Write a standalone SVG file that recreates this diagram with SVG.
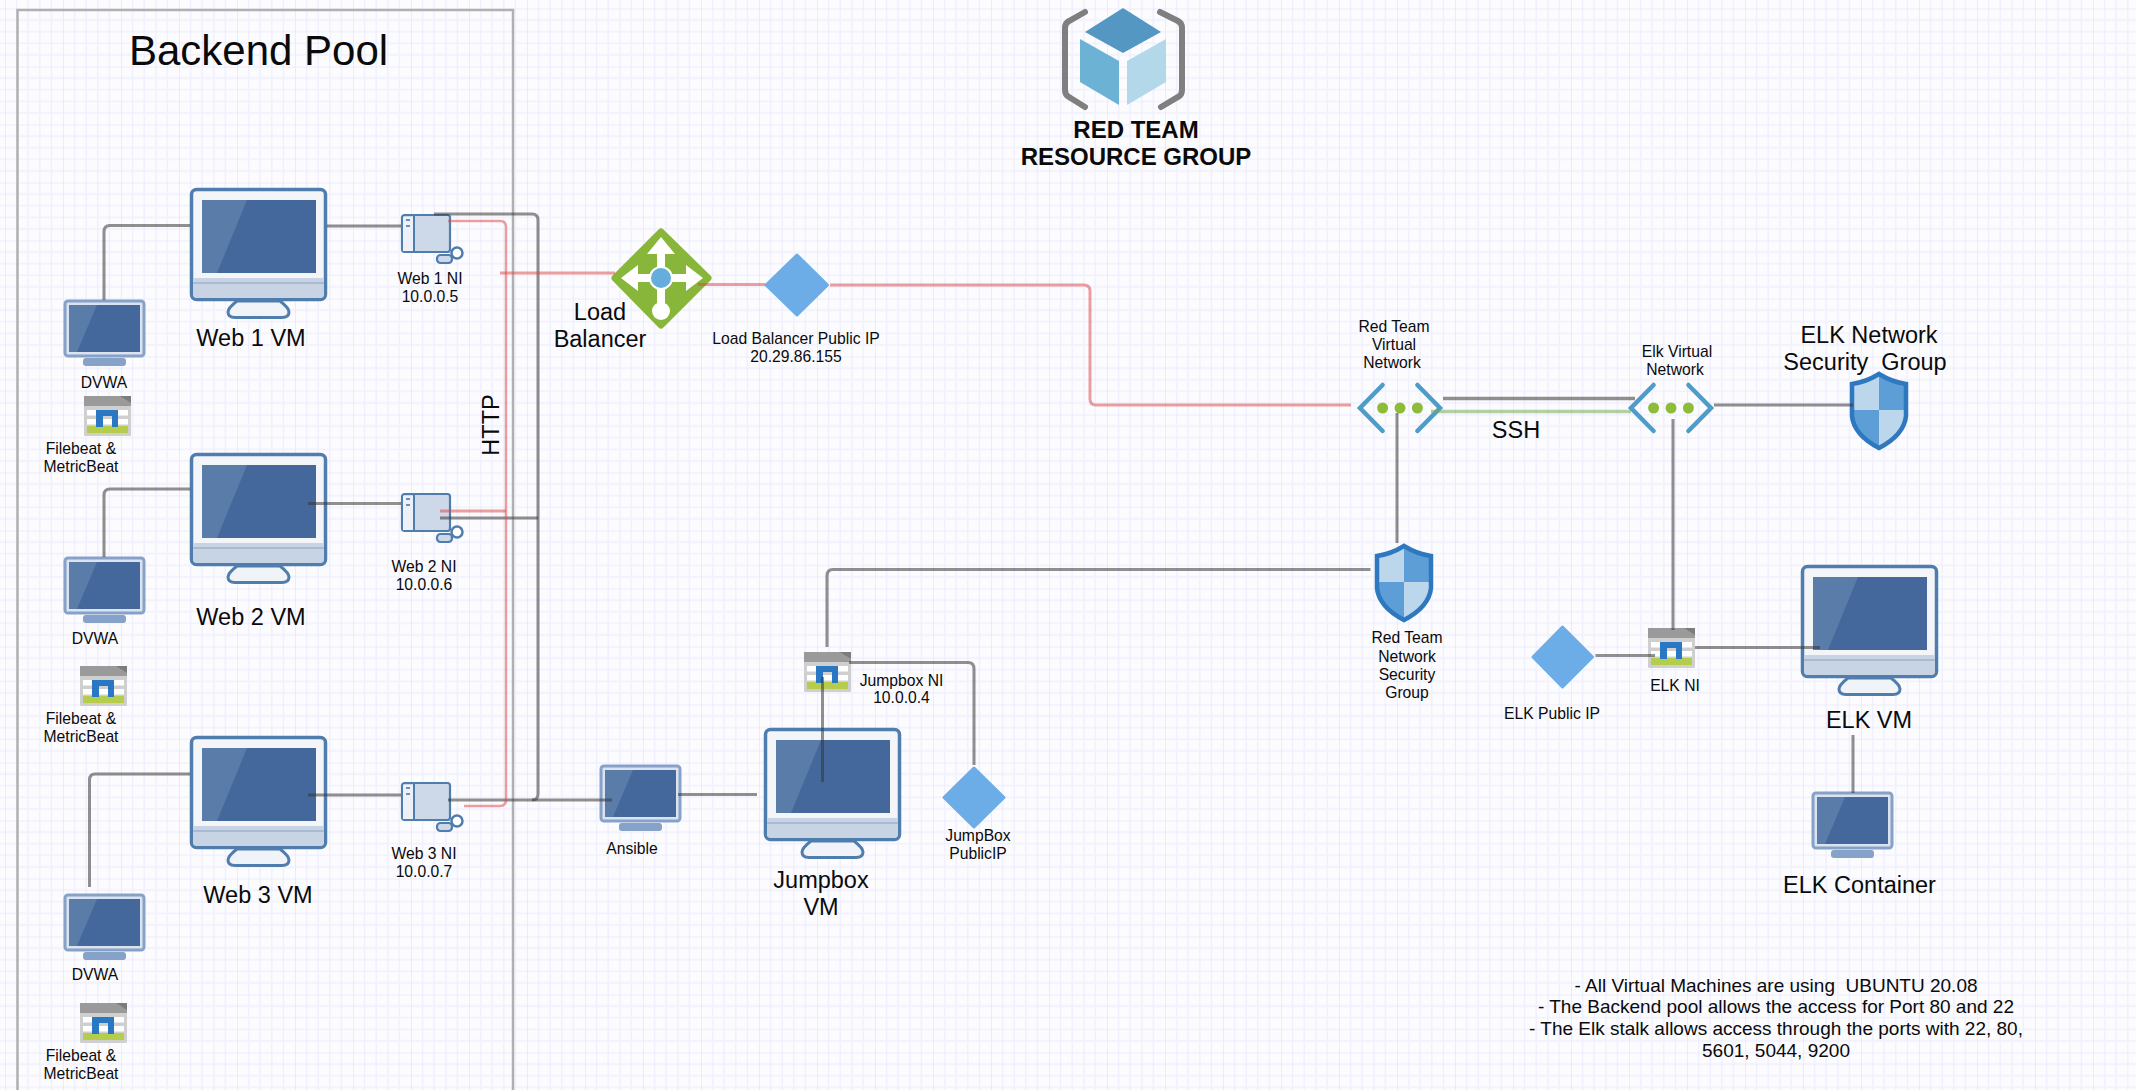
<svg xmlns="http://www.w3.org/2000/svg" width="2136" height="1090" viewBox="0 0 2136 1090">
<style>
text{font-family:"Liberation Sans",Arial,sans-serif;fill:#0a0a0a;text-anchor:middle;white-space:pre}
.s{font-size:15.7px}.m{font-size:23.5px}.b{font-size:24px;font-weight:bold}.n{font-size:19px}
.c{fill:none;stroke:#333;stroke-opacity:.55;stroke-width:3}
.r{fill:none;stroke:#dc4646;stroke-opacity:.52;stroke-width:3}
.g{fill:none;stroke:#76ab5a;stroke-opacity:.55;stroke-width:3.5}
.ip{fill:#6cade8;stroke:#6cade8;stroke-width:3;stroke-linejoin:round}
.ch{fill:none;stroke:#4f9cc8;stroke-width:4.5;stroke-linecap:round;stroke-linejoin:miter}
.dot{fill:#8dbd37}
use,.soft{filter:url(#soft)}
</style>
<defs>
<filter id="soft" x="-5%" y="-5%" width="110%" height="110%"><feGaussianBlur stdDeviation="0.5"/></filter>
<filter id="softl" filterUnits="userSpaceOnUse" x="0" y="0" width="2136" height="1090"><feGaussianBlur stdDeviation="0.6"/></filter>
<pattern id="grid" width="58" height="58" patternUnits="userSpaceOnUse" patternTransform="translate(5 8.5)">
<path d="M0 0V58M11.6 0V58M23.2 0V58M34.8 0V58M46.4 0V58M0 0H58M0 11.6H58M0 23.2H58M0 34.8H58M0 46.4H58" fill="none" stroke="#f0f0fe" stroke-width="1.6"/>
<path d="M0 0V58M0 0H58" fill="none" stroke="#e9e9fc" stroke-width="1.6"/>
</pattern>
<clipPath id="sc"><path d="M29 0Q42 9 58 11V44Q56 64 29 78Q2 64 0 44V11Q16 9 29 0Z"/></clipPath>
<symbol id="bigmon" width="138" height="132" viewBox="0 0 138 132" overflow="visible">
<path d="M47 113Q38 120 38 124Q38 129.500 45 129.500H92Q99 129.500 99 124Q99 120 90 113Z" fill="#f0f3f8" stroke="#4f7dae" stroke-width="3"/>
<rect x="1.500" y="1.500" width="134" height="110" rx="5" fill="#f3f5f9" stroke="#4f7dae" stroke-width="3.500"/>
<path d="M3 90H134V106Q134 110 130 110H7Q3 110 3 106Z" fill="#c8d4e4"/>
<path d="M3 95H134" stroke="#a9bbd3" stroke-width="2"/>
<rect x="12" y="12" width="114" height="73" fill="#44689c"/>
<path d="M12 12H57L27 85H12Z" fill="#5a7ba9"/>
</symbol>
<symbol id="smon" width="82" height="67" viewBox="0 0 82 67" overflow="visible">
<rect x="19" y="58" width="43" height="8" rx="3" fill="#86a2c8"/>
<rect x="1" y="1" width="79" height="55" rx="3" fill="#dbe3ef" stroke="#86a2c8" stroke-width="3"/>
<rect x="5" y="5" width="71" height="47" fill="#44689c"/>
<path d="M5 5H33L13 52H5Z" fill="#5a7ba9"/>
</symbol>
<symbol id="srv" width="48" height="40" viewBox="0 0 48 40" overflow="visible">
<rect x="0" y="0" width="47" height="40" rx="1.500" fill="#cfcfcf"/>
<rect x="0" y="0" width="47" height="10" fill="#9a9a9a"/>
<path d="M36 0H47V7Z" fill="#7c7c7c"/>
<rect x="3" y="14" width="41" height="5.500" fill="#fff"/>
<rect x="3" y="23" width="41" height="5.500" fill="#fff"/>
<rect x="3" y="30" width="41" height="7" fill="#b5cd4e"/>
<path d="M12 31V14H34V31H28V20H19V31Z" fill="#2c77c4"/>
</symbol>
<symbol id="nic" width="64" height="52" viewBox="0 0 64 52" overflow="visible">
<rect x="1" y="1" width="48" height="37" rx="2.500" fill="#cdd8e8" stroke="#4f7dae" stroke-width="2.200"/>
<path d="M2 3H13V37H2Z" fill="#edf1f7"/>
<path d="M13 1V38" stroke="#4f7dae" stroke-width="2"/>
<path d="M5 6H9M5 12H9" stroke="#6c8fbb" stroke-width="2"/>
<circle cx="56" cy="39" r="5.500" fill="#fff" stroke="#4f7dae" stroke-width="2.500"/>
<rect x="36" y="41" width="15" height="8" rx="3.500" fill="#cdd8e8" stroke="#4f7dae" stroke-width="2.200"/>
</symbol>
<symbol id="shield" width="58" height="78" viewBox="0 0 58 78" overflow="visible">
<g clip-path="url(#sc)">
<rect x="0" y="0" width="29" height="38" fill="#bcd7ec"/><rect x="29" y="0" width="29" height="38" fill="#5d9ed6"/>
<rect x="0" y="38" width="29" height="40" fill="#5d9ed6"/><rect x="29" y="38" width="29" height="40" fill="#bcd7ec"/>
</g>
<path d="M29 2Q42 10 56 12V44Q54 63 29 76Q4 63 2 44V12Q16 10 29 2Z" fill="none" stroke="#2f78bf" stroke-width="4.500"/>
</symbol>
</defs>

<rect id="canvas" width="2136" height="1090" fill="#fcfcff"/>
<rect width="2136" height="1090" fill="url(#grid)"/>
<rect id="backend-pool" x="17.500" y="10" width="495.500" height="1095" fill="none" stroke="#b0b0b0" stroke-width="2.500" filter="url(#softl)"/>
<text x="258.500" y="65" style="font-size:42px">Backend Pool</text>

<g id="resource-group">
<g class="soft">
<path d="M1085 12L1069 21Q1065 23 1065 28V90Q1065 95 1069 97L1085 107M1160 12L1178 21Q1182 23 1182 28V90Q1182 95 1178 97L1161 107" fill="none" stroke="#7f7f7f" stroke-width="6" stroke-linecap="round"/>
<path d="M1123 8L1161 32L1123 53L1085 32Z" fill="#5397c2"/>
<path d="M1080 39L1119 61V105L1080 82Z" fill="#6cb2d5"/>
<path d="M1166 39L1127 61V105L1166 82Z" fill="#b3d8ea"/>
</g>
<text class="b" x="1136" y="137.500">RED TEAM</text>
<text class="b" x="1136" y="165">RESOURCE GROUP</text>
</g>

<g id="web1-vm"><use href="#bigmon" x="190" y="188"/><text class="m" x="251" y="346">Web 1 VM</text></g>
<g id="web2-vm"><use href="#bigmon" x="190" y="453"/><text class="m" x="251" y="624.500">Web 2 VM</text></g>
<g id="web3-vm"><use href="#bigmon" x="190" y="736"/><text class="m" x="258" y="902.500">Web 3 VM</text></g>

<g id="dvwa1"><use href="#smon" x="64" y="300"/><text class="s" x="104" y="388">DVWA</text></g>
<g id="dvwa2"><use href="#smon" x="64" y="557"/><text class="s" x="95" y="643.500">DVWA</text></g>
<g id="dvwa3"><use href="#smon" x="64" y="894"/><text class="s" x="95" y="980">DVWA</text></g>

<g id="beat1"><use href="#srv" x="84" y="396"/><text class="s" x="81" y="454">Filebeat &amp;</text><text class="s" x="81" y="472">MetricBeat</text></g>
<g id="beat2"><use href="#srv" x="80" y="666"/><text class="s" x="81" y="724">Filebeat &amp;</text><text class="s" x="81" y="742">MetricBeat</text></g>
<g id="beat3"><use href="#srv" x="80" y="1003"/><text class="s" x="81" y="1061">Filebeat &amp;</text><text class="s" x="81" y="1079">MetricBeat</text></g>

<g id="web1-ni"><use href="#nic" x="401" y="214"/><text class="s" x="430" y="284">Web 1 NI</text><text class="s" x="430" y="302">10.0.0.5</text></g>
<g id="web2-ni"><use href="#nic" x="401" y="493"/><text class="s" x="424" y="572">Web 2 NI</text><text class="s" x="424" y="590">10.0.0.6</text></g>
<g id="web3-ni"><use href="#nic" x="401" y="782"/><text class="s" x="424" y="859">Web 3 NI</text><text class="s" x="424" y="877">10.0.0.7</text></g>

<text class="m" transform="translate(499 425) rotate(-90)" x="0" y="0">HTTP</text>

<g id="load-balancer">
<g class="soft">
<path d="M661 232L708 278L661 325L615 278Z" fill="#87b63a" stroke="#87b63a" stroke-width="7" stroke-linejoin="round"/>
<path d="M661 237L675 254H647ZM621 278L638 265V291ZM703 278L686 265V291Z" fill="#fff"/>
<path d="M661 250V306M636 278H688" stroke="#fff" stroke-width="8"/>
<circle cx="661" cy="311" r="9" fill="#fff"/>
<circle cx="661" cy="278" r="11" fill="#65aedb" stroke="#fff" stroke-width="2"/>
</g>
<text class="m" x="600" y="320">Load</text><text class="m" x="600" y="347">Balancer</text>
</g>

<g id="lb-public-ip"><path class="ip soft" d="M797 255L827.500 285L797 315L766 285Z"/><text class="s" x="796" y="344">Load Balancer Public IP</text><text class="s" x="796" y="362">20.29.86.155</text></g>

<g id="red-vnet">
<g class="soft"><path class="ch" d="M1382.600 385L1360 408L1382.600 431M1417.400 385L1440 408L1417.400 431"/>
<circle class="dot" cx="1382.600" cy="408" r="5.500"/><circle class="dot" cx="1400" cy="408" r="5.500"/><circle class="dot" cx="1417.400" cy="408" r="5.500"/></g>
<text class="s" x="1394" y="332">Red Team</text><text class="s" x="1394" y="350">Virtual</text><text class="s" x="1392" y="368">Network</text>
</g>
<g id="elk-vnet">
<g class="soft"><path class="ch" d="M1653.600 385L1631 408L1653.600 431M1688.400 385L1711 408L1688.400 431"/>
<circle class="dot" cx="1653.600" cy="408" r="5.500"/><circle class="dot" cx="1671" cy="408" r="5.500"/><circle class="dot" cx="1688.400" cy="408" r="5.500"/></g>
<text class="s" x="1677" y="357">Elk Virtual</text><text class="s" x="1675" y="375">Network</text>
</g>
<text class="m" x="1516" y="437.500">SSH</text>

<g id="elk-nsg"><use href="#shield" x="1850" y="372"/><text class="m" x="1869" y="342.500">ELK Network</text><text class="m" x="1865" y="370">Security  Group</text></g>
<g id="red-nsg"><use href="#shield" x="1375" y="544"/><text class="s" x="1407" y="643">Red Team</text><text class="s" x="1407" y="661.500">Network</text><text class="s" x="1407" y="679.500">Security</text><text class="s" x="1407" y="697.500">Group</text></g>

<g id="jumpbox-ni"><use href="#srv" x="804" y="652"/><text class="s" x="901.500" y="685.500">Jumpbox NI</text><text class="s" x="901.500" y="703">10.0.0.4</text></g>
<g id="jumpbox-vm"><use href="#bigmon" x="764" y="728"/><text class="m" x="821" y="888">Jumpbox</text><text class="m" x="821" y="915">VM</text></g>
<g id="jumpbox-ip"><path class="ip soft" d="M974 768L1004 797.500L974 827L944 797.500Z"/><text class="s" x="978" y="841">JumpBox</text><text class="s" x="978" y="858.500">PublicIP</text></g>
<g id="ansible"><use href="#smon" x="600" y="765"/><text class="s" x="632" y="854">Ansible</text></g>

<g id="elk-ni"><use href="#srv" x="1648" y="628"/><text class="s" x="1675" y="691">ELK NI</text></g>
<g id="elk-ip"><path class="ip soft" d="M1562.500 627L1592.500 657L1562.500 687L1533 657Z"/><text class="s" x="1552" y="719">ELK Public IP</text></g>
<g id="elk-vm"><use href="#bigmon" x="1801" y="565"/><text class="m" x="1869" y="728">ELK VM</text></g>
<g id="elk-container"><use href="#smon" x="1812" y="792"/><text class="m" x="1859.500" y="893">ELK Container</text></g>

<g id="notes">
<text class="n" x="1776" y="991.500">- All Virtual Machines are using  UBUNTU 20.08</text>
<text class="n" x="1776" y="1013">- The Backend pool allows the access for Port 80 and 22</text>
<text class="n" x="1776" y="1035">- The Elk stalk allows access through the ports with 22, 80,</text>
<text class="n" x="1776" y="1057">5601, 5044, 9200</text>
</g>

<g id="connectors" filter="url(#softl)">
<path class="c" d="M190 225.500H110Q104 225.500 104 232V300"/>
<path class="c" d="M190 489H110Q104 489 104 495V557"/>
<path class="c" d="M190 774H95Q89.500 774 89.500 780V887"/>
<path class="c" d="M327 226H401"/>
<path class="c" d="M308 503.500H401"/>
<path class="c" d="M308 795H401"/>
<path class="c" d="M434 214H532Q538 214 538 220V794Q538 800 532 800"/>
<path class="c" d="M440 518H538"/>
<path class="c" d="M448 800H612"/>
<path class="c" d="M678 794.500H757"/>
<path class="r" d="M448 221H500Q506 221 506 227V800Q506 806 500 806H464" style="stroke-width:2.500"/>
<path class="r" d="M440 511H506"/>
<path class="r" d="M500 273H615"/>
<path class="r" d="M698 284.500H765"/>
<path class="r" d="M830 285H1084Q1090 285 1090 291V399Q1090 405 1096 405H1351"/>
<path class="c" d="M1443 398.500H1635" style="stroke-width:3.500"/>
<path class="g" d="M1431 411.500H1631"/>
<path class="c" d="M1714 405H1853"/>
<path class="c" d="M1397 413V543"/>
<path class="c" d="M1370.500 569.500H833Q827 569.500 827 576V647"/>
<path class="c" d="M1673 419V630"/>
<path class="c" d="M1595.500 655.500H1655"/>
<path class="c" d="M1695 647.500H1820"/>
<path class="c" d="M1853 735V793"/>
<path class="c" d="M822.500 677V782"/>
<path class="c" d="M849 662.500H968Q974 662.500 974 669V765"/>
</g>
</svg>
